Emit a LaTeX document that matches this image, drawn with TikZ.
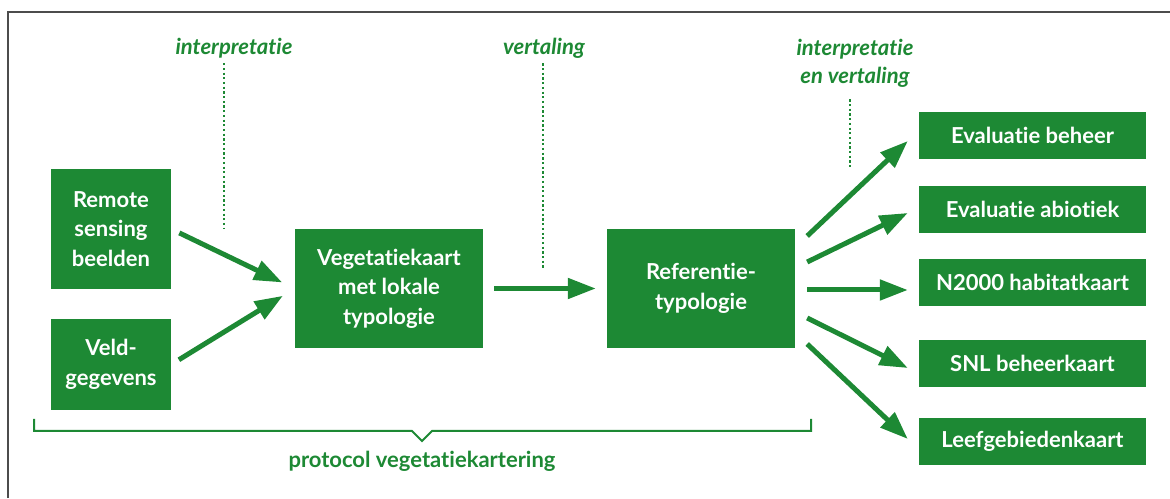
\documentclass[tikz,border=0pt]{standalone}
\usepackage{fontspec}
\setmainfont{Lato}[Ligatures=NoCommon]
\usetikzlibrary{arrows.meta}
\definecolor{kaartgroen}{RGB}{29,137,52}

\begin{document}
\begin{tikzpicture}[x=1pt,y=1pt,
  blok/.style={fill=kaartgroen,text=white,font=\fontsize{22}{29.5}\selectfont\bfseries,align=center,inner sep=0pt},
  pijl/.style={kaartgroen,line width=5pt,-{Triangle[length=28pt,width=20pt]}},
  stip/.style={kaartgroen,line width=2.6pt,dash pattern=on 2.2pt off 2.5pt},
  opm/.style={text=kaartgroen,font=\fontsize{22}{28}\selectfont\bfseries\itshape,align=center,inner sep=2pt}]
\useasboundingbox (0,0) rectangle (1170,498);
\draw[black!70,line width=1.5pt] (8,0) -- (8,486) -- (1170,486);
% invoer
\node[blok,minimum width=120pt,minimum height=120pt] (remote) at (111,269) {Remote\\sensing\\beelden};
\node[blok,minimum width=120pt,minimum height=91pt] (veld) at (111,133.5) {Veld-\\gegevens};
% kaart en typologie
\node[blok,minimum width=188pt,minimum height=119pt] (vegkaart) at (389,209.5) {Vegetatiekaart\\met lokale\\typologie};
\node[blok,minimum width=188pt,minimum height=119pt] (ref) at (701,209.5) {Referentie-\\typologie};
% producten
\foreach \naam/\y/\tekst in {beheer/362.5/Evaluatie beheer,abiotiek/288.5/Evaluatie abiotiek,n2000/215.5/N2000 habitatkaart,snl/134.5/SNL beheerkaart,leef/56.5/Leefgebiedenkaart}{
\node[blok,minimum width=227pt,minimum height=47pt] (\naam) at (1032.5,\y) {\tekst};
}
%
\draw[pijl,shorten <=9pt,shorten >=14pt] (remote.east) -- (vegkaart.west);
\draw[pijl,shorten <=9pt,shorten >=14pt] (veld.east) -- (vegkaart.west);
\draw[pijl,shorten <=11pt,shorten >=11pt] (vegkaart.east) -- (ref.west);
\foreach \naam/\van/\naar in {beheer/52.5/-5.5,abiotiek/26.5/-3.5,n2000/-1.5/-7.5,snl/-29.5/-4.5,leef/-55.5/2.5}{
\draw[pijl] ([shift={(12,\van)}]ref.east) -- ([shift={(-11,\naar)}]\naam.west);
}
% stappen
\node[opm] (interp) at (234,450) {interpretatie};
\node[opm] (vert) at (544,450) {vertaling};
\node[opm] (interpvert) at (855,435) {interpretatie\\en vertaling};
\coordinate (s1) at (224,270);
\coordinate (s2) at (543,228);
\coordinate (s3) at (850,330);
\draw[stip,shorten <=3pt] (s1 |- interp.south) -- (s1);
\draw[stip,shorten <=3pt] (s2 |- vert.south) -- (s2);
\draw[stip,shorten <=10pt] (s3 |- interpvert.south) -- (s3);
% accolade
\draw[kaartgroen,line width=2pt] (34,79) -- (34,67) -- (412,67) -- (422,57) -- (432,67) -- (811,67) -- (811,79);
\node[text=kaartgroen,font=\fontsize{22}{26}\selectfont\bfseries] (protocol) at (422,37) {protocol vegetatiekartering};
\end{tikzpicture}
\end{document}
